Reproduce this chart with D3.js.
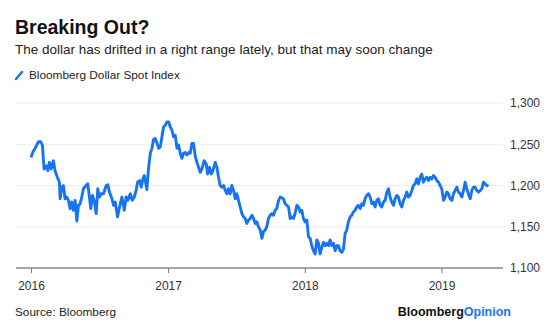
<!DOCTYPE html>
<html>
<head>
<meta charset="utf-8">
<script src="https://cdn.jsdelivr.net/npm/d3@7"></script>
<style>
  body { margin: 0; background: #fff; }
  svg { font-family: "Liberation Sans", Arial, sans-serif; }
</style>
</head>
<body>
<div id="chart"></div>
<script>
// dates as decimal years
var dates = [
  2016.000, 2016.012, 2016.029, 2016.054, 2016.071, 2016.083, 2016.095, 2016.110, 2016.122, 2016.134,
  2016.146, 2016.163, 2016.175, 2016.192, 2016.207, 2016.212, 2016.224, 2016.236, 2016.248, 2016.261,
  2016.273, 2016.285, 2016.297, 2016.309, 2016.322, 2016.334, 2016.346, 2016.358, 2016.370, 2016.382,
  2016.402, 2016.414, 2016.426, 2016.436, 2016.448, 2016.463, 2016.475, 2016.487, 2016.499, 2016.512,
  2016.529, 2016.548, 2016.560, 2016.572, 2016.590, 2016.602, 2016.614, 2016.631, 2016.646, 2016.663,
  2016.680, 2016.694, 2016.706, 2016.724, 2016.738, 2016.753, 2016.767, 2016.777, 2016.792, 2016.804,
  2016.816, 2016.826, 2016.836, 2016.845, 2016.857, 2016.870, 2016.882, 2016.894, 2016.906, 2016.918,
  2016.931, 2016.943, 2016.955, 2016.967, 2016.979, 2016.991, 2017.004, 2017.016, 2017.028, 2017.040,
  2017.052, 2017.065, 2017.077, 2017.089, 2017.101, 2017.113, 2017.125, 2017.138, 2017.150, 2017.162,
  2017.174, 2017.186, 2017.199, 2017.211, 2017.223, 2017.235, 2017.247, 2017.264, 2017.279, 2017.289,
  2017.303, 2017.315, 2017.328, 2017.345, 2017.357, 2017.369, 2017.381, 2017.393, 2017.406, 2017.418,
  2017.430, 2017.442, 2017.454, 2017.466, 2017.479, 2017.491, 2017.503, 2017.515, 2017.527, 2017.540,
  2017.552, 2017.564, 2017.576, 2017.588, 2017.600, 2017.613, 2017.625, 2017.637, 2017.649, 2017.661,
  2017.674, 2017.686, 2017.698, 2017.710, 2017.722, 2017.734, 2017.747, 2017.759, 2017.771, 2017.783,
  2017.795, 2017.808, 2017.820, 2017.844, 2017.856, 2017.868, 2017.881, 2017.893, 2017.905, 2017.917,
  2017.929, 2017.942, 2017.954, 2017.966, 2017.978, 2017.990, 2018.002, 2018.015, 2018.027, 2018.039,
  2018.051, 2018.063, 2018.076, 2018.088, 2018.100, 2018.112, 2018.124, 2018.136, 2018.149, 2018.161,
  2018.173, 2018.185, 2018.197, 2018.210, 2018.222, 2018.234, 2018.246, 2018.258, 2018.271, 2018.283,
  2018.295, 2018.307, 2018.319, 2018.332, 2018.344, 2018.356, 2018.368, 2018.380, 2018.392, 2018.405,
  2018.417, 2018.429, 2018.441, 2018.453, 2018.466, 2018.478, 2018.490, 2018.502, 2018.514, 2018.527,
  2018.539, 2018.551, 2018.563, 2018.575, 2018.588, 2018.600, 2018.612, 2018.624, 2018.636, 2018.649,
  2018.661, 2018.673, 2018.685, 2018.697, 2018.710, 2018.722, 2018.734, 2018.746, 2018.758, 2018.770,
  2018.783, 2018.795, 2018.807, 2018.819, 2018.831, 2018.844, 2018.856, 2018.868, 2018.880, 2018.892,
  2018.905, 2018.917, 2018.929, 2018.941, 2018.953, 2018.966, 2018.978, 2018.990, 2019.002, 2019.015,
  2019.027, 2019.039, 2019.051, 2019.063, 2019.076, 2019.088, 2019.100, 2019.112, 2019.124, 2019.136,
  2019.149, 2019.161, 2019.173, 2019.185, 2019.197, 2019.210, 2019.222, 2019.234, 2019.246, 2019.258,
  2019.271, 2019.283, 2019.295, 2019.307, 2019.319, 2019.332, 2019.344
];

// Bloomberg Dollar Spot Index
var index = [
  1234, 1240, 1245, 1253, 1253, 1249, 1220, 1224, 1218, 1228,
  1220, 1230, 1218, 1210, 1204, 1184, 1198, 1200, 1184, 1186,
  1182, 1172, 1180, 1170, 1182, 1157, 1176, 1178, 1186, 1196,
  1200, 1202, 1186, 1172, 1188, 1180, 1166, 1196, 1186, 1190,
  1190, 1200, 1201, 1192, 1184, 1176, 1180, 1162, 1174, 1186,
  1170, 1186, 1182, 1190, 1182, 1186, 1194, 1204, 1206, 1198,
  1208, 1212, 1204, 1195, 1220, 1239, 1245, 1256, 1257, 1252,
  1245, 1247, 1259, 1271, 1273, 1277, 1277, 1271, 1267, 1259,
  1261, 1245, 1249, 1239, 1233, 1239, 1240, 1237, 1240, 1239,
  1251, 1251, 1235, 1228, 1222, 1216, 1220, 1230, 1226, 1214,
  1222, 1214, 1218, 1228, 1222, 1210, 1200, 1198, 1200, 1194,
  1190, 1196, 1190, 1200, 1194, 1184, 1190, 1182, 1174, 1166,
  1162, 1160, 1154, 1158, 1160, 1164, 1160, 1154, 1156, 1150,
  1146, 1136, 1144, 1146, 1150, 1160, 1164, 1166, 1164, 1170,
  1172, 1182, 1186, 1184, 1178, 1176, 1174, 1160, 1162, 1160,
  1166, 1176, 1174, 1168, 1170, 1160, 1156, 1158, 1138, 1136,
  1127, 1121, 1117, 1134, 1130, 1117, 1125, 1131, 1127, 1130,
  1127, 1134, 1127, 1130, 1121, 1127, 1127, 1121, 1119, 1123,
  1142, 1146, 1156, 1162, 1164, 1168, 1170, 1174, 1176, 1172,
  1178, 1176, 1184, 1188, 1190, 1186, 1178, 1180, 1174, 1182,
  1184, 1176, 1174, 1180, 1182, 1192, 1196, 1186, 1180, 1176,
  1184, 1188, 1186, 1178, 1174, 1182, 1186, 1192, 1186, 1188,
  1194, 1200, 1202, 1208, 1202, 1210, 1214, 1204, 1208, 1210,
  1206, 1210, 1208, 1212, 1210, 1206, 1204, 1200, 1196, 1182,
  1186, 1192, 1190, 1184, 1182, 1190, 1194, 1198, 1192, 1190,
  1186, 1194, 1204, 1196, 1190, 1184, 1194, 1198, 1198, 1194,
  1192, 1194, 1196, 1204, 1202, 1200, 1199
];

var yTicks = [1100, 1150, 1200, 1250, 1300];
var xTicks = [2016, 2017, 2018, 2019];

var title = "Breaking Out?";
var subtitle = "The dollar has drifted in a right range lately, but that may soon change";
var seriesName = "Bloomberg Dollar Spot Index";
var source = "Source: Bloomberg";

// decimal year -> Date
function toDate(y) {
  var yr = Math.floor(y);
  var start = new Date(yr, 0, 1), end = new Date(yr + 1, 0, 1);
  return new Date(+start + (y - yr) * (end - start));
}

var data = dates.map(function(d, i) { return { date: toDate(d), value: index[i] }; });

var width = 560, height = 325;
var plotLeft = 16, plotRight = 503, plotTop = 103, plotBottom = 268;
var blue = "#1673f4";

var svg = d3.select("#chart")
  .append("svg")
  .attr("width", width)
  .attr("height", height);

var x = d3.scaleTime()
  .domain([toDate(2015.89), toDate(2019.45)])
  .range([plotLeft, plotRight]);

var y = d3.scaleLinear()
  .domain([1100, 1300])
  .range([plotBottom, plotTop]);

// title and subtitle
svg.append("text")
  .attr("x", 15).attr("y", 34)
  .style("font-size", "19.5px").style("font-weight", "bold")
  .style("fill", "#111")
  .text(title);

svg.append("text")
  .attr("x", 15).attr("y", 54)
  .style("font-size", "13.5px").style("fill", "#222")
  .text(subtitle);

// legend
svg.append("line")
  .attr("x1", 16).attr("y1", 79).attr("x2", 22).attr("y2", 72)
  .style("stroke", blue).style("stroke-width", 2.5)
  .style("stroke-linecap", "round");

svg.append("text")
  .attr("x", 29).attr("y", 79)
  .style("font-size", "11.8px").style("fill", "#222")
  .text(seriesName);

// gridlines
svg.append("g")
  .selectAll("line")
  .data(yTicks.slice(1))
  .enter()
  .append("line")
  .attr("x1", plotLeft).attr("x2", plotRight)
  .attr("y1", function(d) { return y(d); })
  .attr("y2", function(d) { return y(d); })
  .style("stroke", "#ebebeb").style("stroke-width", 1);

// y axis labels on the right
var yAxis = svg.append("g")
  .attr("transform", "translate(" + (plotRight + 7) + ",0)")
  .call(d3.axisRight(y).tickValues(yTicks).tickSize(0).tickPadding(0)
    .tickFormat(d3.format(",")));
yAxis.select(".domain").remove();
yAxis.selectAll("text")
  .style("font-size", "12px").style("fill", "#333")
  .style("font-family", "'Liberation Sans', Arial, sans-serif");

// x axis
var xAxis = svg.append("g")
  .attr("transform", "translate(0," + plotBottom + ")")
  .call(d3.axisBottom(x)
    .tickValues(xTicks.map(function(d) { return toDate(d); }))
    .tickSize(5).tickPadding(8)
    .tickFormat(d3.timeFormat("%Y")));
xAxis.select(".domain").remove();
xAxis.selectAll(".tick line").style("stroke", "#777");
xAxis.selectAll("text")
  .style("font-size", "12px").style("fill", "#333")
  .style("font-family", "'Liberation Sans', Arial, sans-serif");

svg.append("line")
  .attr("x1", plotLeft).attr("x2", plotRight)
  .attr("y1", plotBottom).attr("y2", plotBottom)
  .style("stroke", "#888").style("stroke-width", 1.5);

// the line
var line = d3.line()
  .x(function(d) { return x(d.date); })
  .y(function(d) { return y(d.value); });

svg.append("path")
  .datum(data)
  .attr("d", line)
  .style("fill", "none")
  .style("stroke", blue)
  .style("stroke-width", 2.9)
  .style("stroke-linejoin", "round");

// footer
svg.append("text")
  .attr("x", 15).attr("y", 316)
  .style("font-size", "11.8px").style("fill", "#222")
  .text(source);

var brand = svg.append("text")
  .attr("x", 511).attr("y", 316)
  .attr("text-anchor", "end")
  .style("font-size", "12.5px").style("font-weight", "bold");
brand.append("tspan").style("fill", "#111").text("Bloomberg");
brand.append("tspan").style("fill", blue).text("Opinion");
</script>
</body>
</html>
